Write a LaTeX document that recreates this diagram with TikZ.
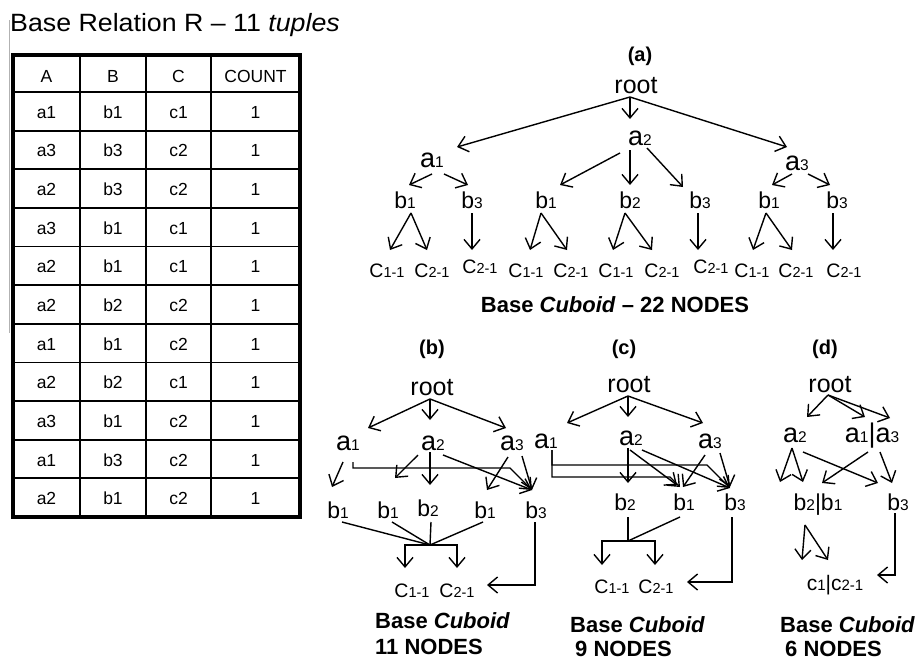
\documentclass[tikz,border=0pt]{standalone}
\usepackage{fontspec}
\setmainfont{Liberation Sans}
\newfontfamily\titlefont[FakeStretch=1.07]{Liberation Sans}
\usetikzlibrary{arrows.meta,calc}
\newcommand{\fs}[1]{\fontsize{#1}{#1}\selectfont}
\newcommand{\AL}[1]{{\fs{27}a}{\fs{15.5}#1}}
\newcommand{\BL}[1]{{\fs{23}b}{\fs{15.5}#1}}
\newcommand{\CL}[1]{{\fs{19.5}C}{\fs{14.5}#1}}
\newcommand{\RT}{{\fs{25}root}}
\begin{document}
\begin{tikzpicture}[x=1pt,y=-1pt,
  lbl/.style={inner sep=0pt, anchor=base},
  tcell/.style={inner sep=0pt, anchor=base, font=\fs{17.5}},
  ttl/.style={inner sep=0pt, anchor=base, font=\fs{20}\bfseries},
  capt/.style={inner sep=0pt, anchor=base west, font=\fs{22}\bfseries},
  arr/.style={-{Straight Barb[length=9.5pt,width=16pt]}, line width=1.4pt},
  ln/.style={line width=1.4pt},
  grid/.style={line width=1.8pt}]
\useasboundingbox (0,0) rectangle (919,659);

% ---------- title and table ----------
\node[lbl, anchor=base west] (title) at (10,31) {\titlefont\fs{25}Base Relation R – 11 \textit{tuples}};
\draw[gray!60, line width=1pt] (9,20) -- (9,333);
\foreach \x in {80,146,211} \draw[grid] (\x,55) -- (\x,517);
\foreach \k in {1,...,11} \draw[grid] (13,{92+38.636*(\k-1)}) -- (300,{92+38.636*(\k-1)});
\draw[line width=4.5pt] (13,55) rectangle (300,517);
\node[tcell] (hA) at (46.5,82) {A};
\node[tcell] (hB) at (113,82) {B};
\node[tcell] (hC) at (178.5,82) {C};
\node[tcell] (hN) at (255.5,82) {COUNT};
\foreach \a/\b/\c [count=\i] in {a1/b1/c1,a3/b3/c2,a2/b3/c2,a3/b1/c1,a2/b1/c1,a2/b2/c2,a1/b1/c2,a2/b2/c1,a3/b1/c2,a1/b3/c2,a2/b1/c2}{
  \node[tcell] (rA\i) at (46.5,{92+38.636*(\i-0.5)+7}) {\a};
  \node[tcell] (rB\i) at (113,{92+38.636*(\i-0.5)+7}) {\b};
  \node[tcell] (rC\i) at (178.5,{92+38.636*(\i-0.5)+7}) {\c};
  \node[tcell] (rN\i) at (255.5,{92+38.636*(\i-0.5)+7}) {1};
}

% ---------- (a) ----------
\node[ttl] (aT) at (640,61) {(a)};
\node[lbl] (aR) at (636,93) {\RT};
\node[lbl] (aA1) at (432,167) {\AL1};
\node[lbl] (aA2) at (640,145) {\AL2};
\node[lbl] (aA3) at (797,170) {\AL3};
\node[lbl] (aB1) at (405,208) {\BL1};
\node[lbl] (aB3) at (472,208) {\BL3};
\node[lbl] (aB4) at (546,208) {\BL1};
\node[lbl] (aB5) at (630,208) {\BL2};
\node[lbl] (aB6) at (700,208) {\BL3};
\node[lbl] (aB7) at (769,208) {\BL1};
\node[lbl] (aB8) at (837,208) {\BL3};
\node[lbl] (aC1) at (387,277) {\CL{1-1}};
\node[lbl] (aC2) at (432,277) {\CL{2-1}};
\node[lbl] (aC3) at (480,273) {\CL{2-1}};
\node[lbl] (aC4) at (526,277) {\CL{1-1}};
\node[lbl] (aC5) at (571,277) {\CL{2-1}};
\node[lbl] (aC6) at (616,277) {\CL{1-1}};
\node[lbl] (aC7) at (662,277) {\CL{2-1}};
\node[lbl] (aC8) at (711,273) {\CL{2-1}};
\node[lbl] (aC9) at (752,277) {\CL{1-1}};
\node[lbl] (aC10) at (796,277) {\CL{2-1}};
\node[lbl] (aC11) at (844,277) {\CL{2-1}};
\node[lbl, font=\fs{22}\bfseries] (aCap) at (615,312) {Base \textit{Cuboid} – 22 NODES};

\draw[arr] ($(aR.base)+(-6,4)$) -- ($(aA1.base)+(25,-20)$);
\draw[arr] ($(aR.base)+(-6,4)$) -- ($(aA2.base)+(-10,-26)$);
\draw[arr] ($(aR.base)+(-6,4)$) -- ($(aA3.base)+(-10,-23)$);
\draw[arr] ($(aA1.base)+(0,7)$) -- ($(aB1.base)+(4,-23)$);
\draw[arr] ($(aA1.base)+(12,7)$) -- ($(aB3.base)+(-4,-23)$);
\draw[arr] ($(aA2.base)+(-20,8)$) -- ($(aB4.base)+(14,-23)$);
\draw[arr] ($(aA2.base)+(-10,5)$) -- ($(aB5.base)+(0,-23)$);
\draw[arr] ($(aA2.base)+(7,3)$) -- ($(aB6.base)+(-17,-21)$);
\draw[arr] ($(aA3.base)+(-5,4)$) -- ($(aB7.base)+(3,-23)$);
\draw[arr] ($(aA3.base)+(11,4)$) -- ($(aB8.base)+(-7,-23)$);
\draw[arr] ($(aB1.base)+(6,5)$) -- ($(aC1.base)+(3,-27)$);
\draw[arr] ($(aB1.base)+(6,5)$) -- ($(aC2.base)+(-5,-27)$);
\draw[arr] ($(aB3.base)+(0,5)$) -- ($(aC3.base)+(-8,-23)$);
\draw[arr] ($(aB4.base)+(-5,5)$) -- ($(aC4.base)+(4,-27)$);
\draw[arr] ($(aB4.base)+(-5,5)$) -- ($(aC5.base)+(-4,-27)$);
\draw[arr] ($(aB5.base)+(-5,5)$) -- ($(aC6.base)+(-3,-27)$);
\draw[arr] ($(aB5.base)+(-5,5)$) -- ($(aC7.base)+(-10,-27)$);
\draw[arr] ($(aB6.base)+(-2,5)$) -- ($(aC8.base)+(-13,-23)$);
\draw[arr] ($(aB7.base)+(-3,5)$) -- ($(aC9.base)+(1,-27)$);
\draw[arr] ($(aB7.base)+(-3,5)$) -- ($(aC10.base)+(-4,-27)$);
\draw[arr] ($(aB8.base)+(-4,5)$) -- ($(aC11.base)+(-11,-27)$);

% ---------- (b) ----------
\node[ttl] (bT) at (432,354) {(b)};
\node[lbl] (bR) at (432,395) {\RT};
\node[lbl] (bA1) at (348,450) {\AL1};
\node[lbl] (bA2) at (433,450) {\AL2};
\node[lbl] (bA3) at (512,450) {\AL3};
\node[lbl] (bB1) at (338,518) {\BL1};
\node[lbl] (bB2) at (388,518) {\BL1};
\node[lbl] (bB3) at (428,516) {\BL2};
\node[lbl] (bB4) at (485,518) {\BL1};
\node[lbl] (bB5) at (536,518) {\BL3};
\node[lbl] (bC1) at (412,597) {\CL{1-1}};
\node[lbl] (bC2) at (457,597) {\CL{2-1}};
\coordinate (bJ) at (430,545);
\node[capt] (bCap1) at (375,628) {Base \textit{Cuboid}};
\node[capt] (bCap2) at (375,654) {11 NODES};

\draw[arr] ($(bR.base)+(-2,4)$) -- ($(bA1.base)+(20,-22)$);
\draw[arr] ($(bR.base)+(-2,4)$) -- ($(bA2.base)+(-3,-30)$);
\draw[arr] ($(bR.base)+(-2,4)$) -- ($(bA3.base)+(-6,-22)$);
\draw[arr] ($(bA1.base)+(-5,12)$) -- ($(bB1.base)+(-6,-31)$);
\draw[arr] ($(bA1.base)+(5,12)$) |- ($(bB5.base)+(-26,-50)$) -- ($(bB5.base)+(-4,-28)$);
\draw[arr] ($(bA2.base)+(-15,5)$) -- ($(bB2.base)+(7,-40)$);
\draw[arr] ($(bA2.base)+(-3,2)$) -- ($(bB3.base)+(2,-31)$);
\draw[arr] ($(bA2.base)+(10,5)$) -- ($(bB5.base)+(-4,-28)$);
\draw[arr] ($(bA3.base)+(-4,7)$) -- ($(bB4.base)+(2,-28)$);
\draw[arr] ($(bA3.base)+(10,6)$) -- ($(bB5.base)+(-4,-28)$);
\draw[ln] ($(bB1.base)+(4,4)$) -- (bJ);
\draw[ln] ($(bB2.base)+(4,4)$) -- (bJ);
\draw[ln] ($(bB3.base)+(3,6)$) -- (bJ);
\draw[ln] ($(bB4.base)+(-2,4)$) -- (bJ);
\draw[arr] (bJ) -| ($(bC1.base)+(-7,-29)$);
\draw[arr] (bJ) -| ($(bC2.base)+(0,-29)$);
\draw[arr] ($(bB5.base)+(-1,4)$) |- ($(bC2.base)+(30,-12)$);

% ---------- (c) ----------
\node[ttl] (cT) at (624,354) {(c)};
\node[lbl] (cR) at (629,392) {\RT};
\node[lbl] (cA1) at (546,448) {\AL1};
\node[lbl] (cA2) at (631,445) {\AL2};
\node[lbl] (cA3) at (710,448) {\AL3};
\node[lbl] (cB2) at (625,510) {\BL2};
\node[lbl] (cB1) at (684,510) {\BL1};
\node[lbl] (cB3) at (735,510) {\BL3};
\node[lbl] (cC1) at (612,593) {\CL{1-1}};
\node[lbl] (cC2) at (656,593) {\CL{2-1}};
\coordinate (cJ) at (628,541);
\node[capt] (cCap1) at (570,632) {Base \textit{Cuboid}};
\node[capt] (cCap2) at (575,656) {9 NODES};

\draw[arr] ($(cR.base)+(-1,4)$) -- ($(cA1.base)+(21,-25)$);
\draw[arr] ($(cR.base)+(-1,4)$) -- ($(cA2.base)+(-3,-28)$);
\draw[arr] ($(cR.base)+(-1,4)$) -- ($(cA3.base)+(-7,-25)$);
\draw[arr] ($(cA1.base)+(6,2)$) |- ($(cB3.base)+(-28,-45)$) -- ($(cB3.base)+(-5,-22)$);
\draw[arr] ($(cA1.base)+(6,2)$) |- ($(cB1.base)+(-14,-33)$) -- ($(cB1.base)+(-4,-23)$);
\draw[arr] ($(cA2.base)+(-3,3)$) -- ($(cB2.base)+(3,-27)$);
\draw[arr] ($(cA2.base)+(-1,5)$) -- ($(cB1.base)+(-7,-25)$);
\draw[arr] ($(cA2.base)+(11,5)$) -- ($(cB3.base)+(-5,-22)$);
\draw[arr] ($(cA3.base)+(-5,7)$) -- ($(cB1.base)+(-1,-23)$);
\draw[arr] ($(cA3.base)+(10,5)$) -- ($(cB3.base)+(-5,-23)$);
\draw[ln] ($(cB2.base)+(3,7)$) -- (cJ);
\draw[ln] ($(cB1.base)+(-4,7)$) -- (cJ);
\draw[arr] (cJ) -| ($(cC1.base)+(-10,-28)$);
\draw[arr] (cJ) -| ($(cC2.base)+(-1,-28)$);
\draw[arr] ($(cB3.base)+(-3,7)$) |- ($(cC2.base)+(31,-11)$);

% ---------- (d) ----------
\node[ttl] (dT) at (825,354) {(d)};
\node[lbl] (dR) at (830,392) {\RT};
\node[lbl] (dA2) at (795,442) {\AL2};
\node[lbl] (dA13) at (872,442) {\AL1{\fs{27}|}\AL3};
\node[lbl] (dB21) at (818,510) {\BL2{\fs{23}|}\BL1};
\node[lbl] (dB3) at (898,510) {\BL3};
\node[lbl] (dC) at (835,590) {{\fs{21}c}{\fs{15}1}{\fs{21}|c}{\fs{15}2-1}};
\node[capt] (dCap1) at (780,632) {Base \textit{Cuboid}};
\node[capt] (dCap2) at (785,656) {6 NODES};

\draw[arr] ($(dR.base)+(-2,3)$) -- ($(dA2.base)+(12,-25)$);
\draw[arr] ($(dR.base)+(-2,3)$) -- ($(dA13.base)+(-7,-25)$);
\draw[arr] ($(dR.base)+(-2,3)$) -- ($(dA13.base)+(18,-24)$);
\draw[arr] ($(dA2.base)+(-3,6)$) -- ($(dB21.base)+(-38,-28)$);
\draw[arr] ($(dA2.base)+(-3,6)$) -- ($(dB21.base)+(-15,-28)$);
\draw[arr] ($(dA2.base)+(8,10)$) -- ($(dB3.base)+(-20,-27)$);
\draw[arr] ($(dA13.base)+(-4,10)$) -- ($(dB21.base)+(4,-27)$);
\draw[arr] ($(dA13.base)+(8,10)$) -- ($(dB3.base)+(-6,-27)$);
\draw[arr] ($(dB21.base)+(-13,15)$) -- ($(dC.base)+(-33,-30)$);
\draw[arr] ($(dB21.base)+(-13,15)$) -- ($(dC.base)+(-7,-30)$);
\draw[arr] ($(dB3.base)+(-3,3)$) |- ($(dC.base)+(42,-15)$);
\end{tikzpicture}
\end{document}
